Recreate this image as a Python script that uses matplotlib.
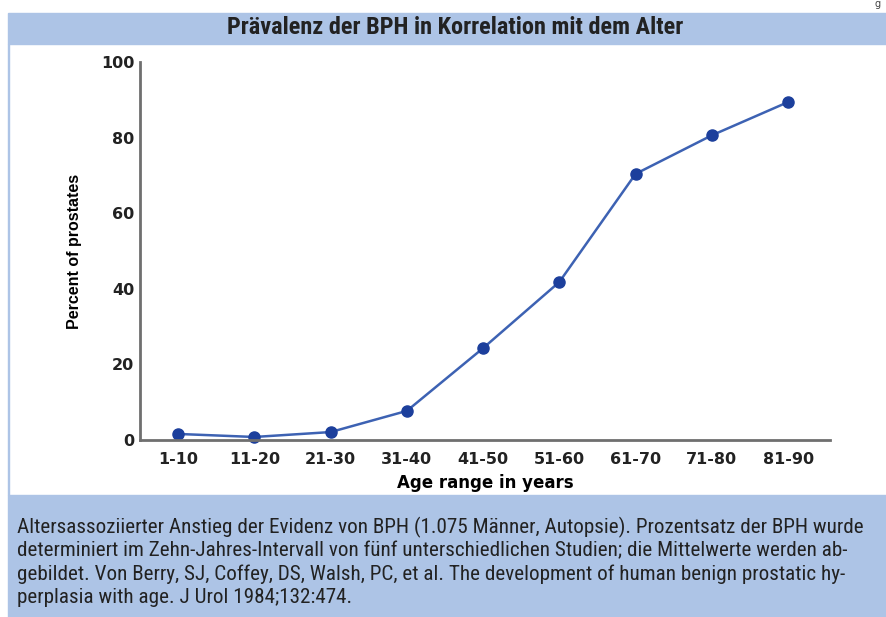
"""Prävalenz der BPH in Korrelation mit dem Alter - line chart with caption bands."""
import matplotlib
matplotlib.use("Agg")
import matplotlib.pyplot as plt
from matplotlib.patches import Rectangle

age_groups = ["1-10", "11-20", "21-30", "31-40", "41-50",
              "51-60", "61-70", "71-80", "81-90"]
percent = [1.6, 0.8, 2.1, 7.7, 24.3, 41.8, 70.4, 80.6, 89.4]
y_ticks = [0, 20, 40, 60, 80, 100]

title = "Prävalenz der BPH in Korrelation mit dem Alter"
caption = [
    "Altersassoziierter Anstieg der Evidenz von BPH (1.075 Männer, Autopsie). "
    "Prozentsatz der BPH wurde",
    "determiniert im Zehn-Jahres-Intervall von fünf unterschiedlichen Studien; "
    "die Mittelwerte werden ab-",
    "gebildet. Von Berry, SJ, Coffey, DS, Walsh, PC, et al. The development of "
    "human benign prostatic hy-",
    "perplasia with age. J Urol 1984;132:474.",
]

BAND = "#adc4e6"
NARROW = ["Roboto Condensed", "Archivo Narrow", "Liberation Sans"]

W, H = 887, 617
fig = plt.figure(figsize=(W / 100, H / 100), dpi=100)


def px(x, y):
    return x / W, 1 - y / H


# background bands
fig.patches.append(Rectangle(px(8, 44), (W - 8) / W, 31 / H, transform=fig.transFigure,
                             color=BAND, zorder=0))
fig.patches.append(Rectangle(px(8, 617), (W - 8) / W, 122 / H, transform=fig.transFigure,
                             color=BAND, zorder=0))
fig.patches.append(Rectangle(px(8, 495), 1.5 / W, 451 / H, transform=fig.transFigure,
                             color=BAND, zorder=0))

fig.text(*px(455, 28), title, ha="center", va="center", fontsize=17.5,
         fontweight="bold", family=NARROW, color="#222222")
for i, line in enumerate(caption):
    fig.text(*px(17, 527 + i * 23.5), line, ha="left", va="center", fontsize=15.2,
             family=NARROW, color="#222222")
fig.text(*px(878, 4), "g", ha="center", va="center", fontsize=7, color="#444444")

ax = fig.add_axes([140 / W, 1 - 440 / H, 690 / W, 378 / H])
x = list(range(len(age_groups)))
ax.plot(x, percent, color="#3d62b3", lw=1.8, marker="o", markersize=8,
        markerfacecolor="#1c3f9c", markeredgecolor="#1c3f9c", clip_on=False)
ax.set_xlim(-0.5, 8.55)
ax.set_ylim(0, 100)
ax.set_xticks(x)
ax.set_xticklabels(age_groups, fontsize=11.5, fontweight="bold")
ax.set_yticks(y_ticks)
ax.set_yticklabels([str(v) for v in y_ticks], fontsize=11.5, fontweight="bold")
ax.tick_params(length=0, colors="#222222")
ax.tick_params(axis="x", pad=9)
ax.tick_params(axis="y", pad=4)
for side in ("top", "right"):
    ax.spines[side].set_visible(False)
for side in ("left", "bottom"):
    ax.spines[side].set_color("#6f6f6f")
    ax.spines[side].set_linewidth(2)
ax.set_xlabel("Age range in years", fontsize=12, fontweight="bold", labelpad=5)
ax.set_ylabel("Percent of prostates", fontsize=11.5, fontweight="bold",
              family=["Liberation Sans", "DejaVu Sans"], labelpad=14)

fig.savefig("out.png", dpi=100)
